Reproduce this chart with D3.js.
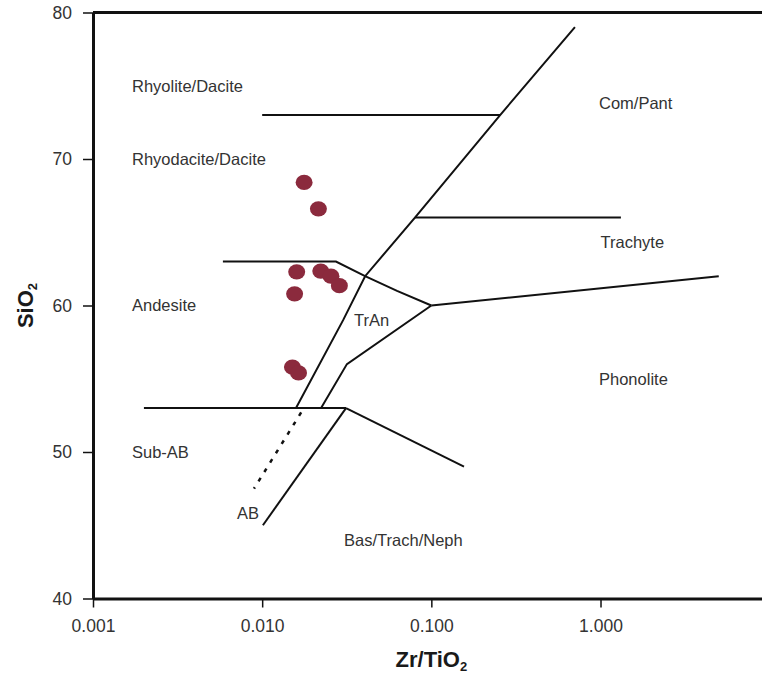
<!DOCTYPE html>
<html>
<head>
<meta charset="utf-8">
<script src="https://cdn.jsdelivr.net/npm/d3@7/dist/d3.min.js"></script>
<style>
  body { margin: 0; background: #fff; }
  svg { display: block; font-family: "Liberation Sans", Arial, sans-serif; }
</style>
</head>
<body>
<svg id="chart" width="762" height="678"></svg>
<script>
// Sample analyses: Zr/TiO2 ratio and SiO2 (wt%)
const sampleZrTi = [0.0177, 0.0215, 0.0160, 0.0222, 0.0255, 0.0286, 0.01555, 0.0151, 0.0164];
const sampleSiO2 = [68.4, 66.6, 62.3, 62.35, 62.0, 61.35, 60.8, 55.8, 55.4];

// Axis ticks
const xTicks = [0.001, 0.01, 0.1, 1];
const yTicks = [40, 50, 60, 70, 80];

// Field boundaries, each as a list of [Zr/TiO2, SiO2] vertices
const boundaryRhyolite = [[0.01, 73], [0.255, 73]];
const boundaryAlkaline = [[0.706, 79], [0.255, 73], [0.080, 66], [0.0406, 62], [0.0301, 59], [0.01585, 53]];
const boundaryTrachyte = [[0.080, 66], [1.32, 66]];
const boundaryAndesite = [[0.00586, 63], [0.0273, 63], [0.0406, 62], [0.0627, 61], [0.1, 60]];
const boundaryPhonolite = [[0.1, 60], [5.0, 62]];
const boundaryTrAn = [[0.1, 60], [0.0317, 56], [0.0223, 53]];
const boundaryBasalt = [[0.002, 53], [0.0313, 53]];
const boundaryBasTrach = [[0.0313, 53], [0.156, 49]];
const boundaryAB = [[0.0313, 53], [0.0101, 45]];
const boundarySubAB = [[0.0170, 52.7], [0.00895, 47.5]];

// Field names and anchor positions [Zr/TiO2, SiO2]
const fieldNames = ["Rhyolite/Dacite", "Rhyodacite/Dacite", "Andesite", "Sub-AB", "Com/Pant",
                    "Trachyte", "Phonolite", "TrAn", "AB", "Bas/Trach/Neph"];
const fieldZrTi = [0.0017, 0.0017, 0.0017, 0.0017, 0.98, 1.0, 0.98, 0.0349, 0.0071, 0.0305];
const fieldSiO2 = [75.0, 70.0, 60.0, 50.0, 73.8, 64.3, 55.0, 59.0, 45.8, 44.0];

const svg = d3.select("#chart");

const x = d3.scaleLog().domain([0.001, 10]).range([93, 93 + 4 * 169.17]);
const y = d3.scaleLinear().domain([40, 80]).range([598.5, 12.5]);

const line = d3.line().x(d => x(d[0])).y(d => y(d[1]));

// Field boundaries
const solid = [boundaryRhyolite, boundaryAlkaline, boundaryTrachyte, boundaryAndesite,
               boundaryPhonolite, boundaryTrAn, boundaryBasalt, boundaryBasTrach, boundaryAB];
svg.append("g")
  .selectAll("path")
  .data(solid)
  .join("path")
  .attr("d", line)
  .attr("fill", "none")
  .attr("stroke", "#111")
  .attr("stroke-width", 2)
  .attr("stroke-linejoin", "miter");

svg.append("path")
  .datum(boundarySubAB)
  .attr("d", line)
  .attr("fill", "none")
  .attr("stroke", "#111")
  .attr("stroke-width", 2.5)
  .attr("stroke-dasharray", "4 7");

// Field names
svg.append("g")
  .selectAll("text")
  .data(fieldNames)
  .join("text")
  .attr("x", (d, i) => x(fieldZrTi[i]))
  .attr("y", (d, i) => y(fieldSiO2[i]))
  .attr("dy", "0.36em")
  .attr("fill", "#333")
  .attr("font-size", 16.5)
  .text(d => d);

// Samples
svg.append("g")
  .selectAll("ellipse")
  .data(sampleZrTi)
  .join("ellipse")
  .attr("cx", d => x(d))
  .attr("cy", (d, i) => y(sampleSiO2[i]))
  .attr("rx", 8.5)
  .attr("ry", 7.6)
  .attr("fill", "#8b2a3d");

// Frame top
svg.append("line")
  .attr("x1", x(0.001)).attr("x2", x(10))
  .attr("y1", y(80)).attr("y2", y(80))
  .attr("stroke", "#111").attr("stroke-width", 3);

// Axes
const xAxis = svg.append("g")
  .attr("transform", `translate(0,${y(40)})`)
  .call(d3.axisBottom(x).tickValues(xTicks).tickFormat(d3.format(".3f"))
        .tickSize(9).tickSizeOuter(0).tickPadding(12));
const yAxis = svg.append("g")
  .attr("transform", `translate(${x(0.001)},0)`)
  .call(d3.axisLeft(y).tickValues(yTicks).tickFormat(d3.format("d"))
        .tickSize(10).tickSizeOuter(0).tickPadding(11));

[xAxis, yAxis].forEach(g => {
  g.select(".domain").attr("stroke", "#111").attr("stroke-width", 3);
  g.selectAll(".tick line").attr("stroke", "#111").attr("stroke-width", 1.5);
  g.selectAll(".tick text")
    .attr("fill", "#333")
    .attr("font-size", 17.5)
    .attr("font-family", "'Liberation Sans', Arial, sans-serif");
});

// Axis titles
const xTitle = svg.append("text")
  .attr("x", x(0.1))
  .attr("y", 667)
  .attr("text-anchor", "middle")
  .attr("font-size", 22)
  .attr("font-weight", "bold")
  .attr("fill", "#1a1a1a");
xTitle.append("tspan").text("Zr/TiO");
xTitle.append("tspan").attr("font-size", 13).attr("dy", 4).text("2");

const yTitle = svg.append("text")
  .attr("transform", `translate(33,${y(60)}) rotate(-90)`)
  .attr("text-anchor", "middle")
  .attr("font-size", 22)
  .attr("font-weight", "bold")
  .attr("fill", "#1a1a1a");
yTitle.append("tspan").text("SiO");
yTitle.append("tspan").attr("font-size", 13).attr("dy", 4).text("2");
</script>
</body>
</html>
